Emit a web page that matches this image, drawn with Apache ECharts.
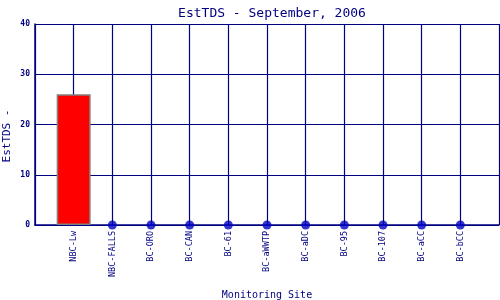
<!DOCTYPE html>
<html>
<head>
<meta charset="utf-8">
<script src="https://cdn.jsdelivr.net/npm/echarts@6/dist/echarts.min.js"></script>
<style>
  html, body { margin: 0; padding: 0; background: #fff; }
  #chart { width: 500px; height: 300px; }
</style>
</head>
<body>
<div id="chart"></div>
<script>
// monitoring sites and EstTDS values for Sept 2006
var sites = ['NBC-Lw', 'NBC-FALLS', 'BC-ORO', 'BC-CAN', 'BC-61', 'BC-aWWTP',
  'BC-aDC', 'BC-95', 'BC-107', 'BC-aCC', 'BC-bCC']
var values = [26, 0, 0, 0, 0, 0, 0, 0, 0, 0, 0]
var yTicks = [0, 10, 20, 30, 40]

var navy = '#000080'
var font = 'DejaVu Sans Mono'

// pad with empty slots so the sites sit on gridlines inside the frame
var cats = [''].concat(sites, [''])
var barData = ['-'].concat(values.map(function (v) { return v > 0 ? v : '-' }), ['-'])
var dotData = ['-'].concat(values.map(function (v) { return v === 0 ? v : '-' }), ['-'])

var chart = echarts.init(document.getElementById('chart'))
chart.setOption({
  animation: false,
  title: {
    text: 'EstTDS - September, 2006',
    left: 267,
    textAlign: 'center',
    top: 2,
    textStyle: { fontFamily: font, fontSize: 13, fontWeight: 'normal', color: navy }
  },
  grid: { left: 35, right: 1, top: 24, bottom: 75, containLabel: false, outerBoundsMode: 'none' },
  xAxis: {
    type: 'category',
    data: cats,
    boundaryGap: false,
    name: 'Monitoring Site',
    nameLocation: 'middle',
    nameGap: 65,
    nameMoveOverlap: false,
    nameTextStyle: { fontFamily: font, fontSize: 10, color: navy },
    axisLine: { lineStyle: { color: navy, width: 1.5 } },
    axisTick: { show: false },
    axisLabel: {
      interval: 0,
      rotate: 90,
      margin: 6,
      fontFamily: font,
      fontSize: 8.5,
      color: navy
    },
    splitLine: { show: true, interval: 0, lineStyle: { color: navy, width: 1.2 } }
  },
  yAxis: {
    type: 'value',
    min: yTicks[0],
    max: yTicks[yTicks.length - 1],
    interval: 10,
    name: 'EstTDS -',
    nameLocation: 'middle',
    nameGap: 22,
    nameMoveOverlap: false,
    nameTextStyle: { fontFamily: font, fontSize: 11, color: navy, padding: [0, 23, 0, 0] },
    axisLine: { show: true, lineStyle: { color: navy, width: 1.5 } },
    axisTick: { show: false },
    axisLabel: { margin: 5, fontFamily: font, fontSize: 8, fontWeight: 'bold', color: navy },
    splitLine: { show: true, lineStyle: { color: navy, width: 1.2 } }
  },
  series: [
    {
      type: 'bar',
      data: barData,
      barWidth: 34,
      itemStyle: { color: '#ff0000', borderColor: '#808080', borderWidth: 1.5 }
    },
    {
      type: 'scatter',
      data: dotData,
      symbolSize: 9,
      itemStyle: { color: '#0000c0' }
    }
  ]
})
</script>
</body>
</html>
